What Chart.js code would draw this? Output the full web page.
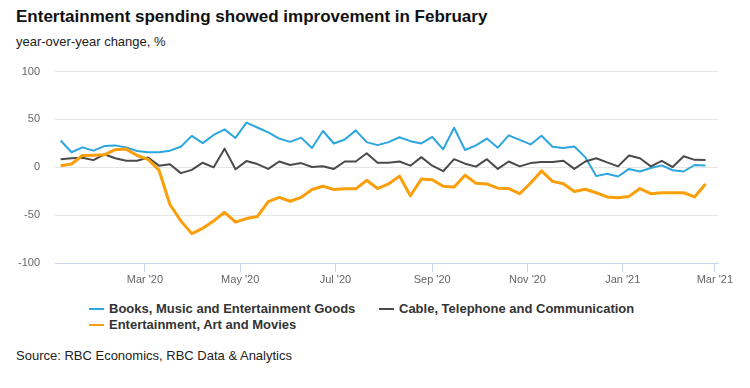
<!DOCTYPE html>
<html>
<head>
<meta charset="utf-8">
<title>Entertainment spending</title>
<script src="https://cdn.jsdelivr.net/npm/chart.js@4"></script>
<style>
    body { margin: 0; background: #fff; font-family: "Liberation Sans", Arial, sans-serif; }
    #wrap { position: relative; width: 750px; height: 388px; overflow: hidden; }
    .txt { position: absolute; white-space: nowrap; }
    #title { left: 16px; top: 7px; font-size: 17px; font-weight: bold; line-height: 20px; color: #111; }
    #subtitle { left: 16px; top: 34px; font-size: 13px; line-height: 16px; color: #222; }
    #chartBox { position: absolute; left: 0; top: 50px; width: 750px; height: 245px; }
    .leg { font-size: 13px; font-weight: bold; line-height: 16px; color: #333; }
    .mark { position: absolute; width: 15px; height: 2px; }
    #source { left: 16px; top: 348px; font-size: 13px; line-height: 16px; color: #222; }
</style>
</head>
<body>
<div id="wrap">
    <div id="title" class="txt">Entertainment spending showed improvement in February</div>
    <div id="subtitle" class="txt">year-over-year change, %</div>
    <div id="chartBox"><canvas id="chart"></canvas></div>
    <div id="legend"></div>
    <div id="source" class="txt">Source: RBC Economics, RBC Data &amp; Analytics</div>
</div>
<script>
// weekly observations
const weeks = [
    '2020-01-07', '2020-01-14', '2020-01-21', '2020-01-28', '2020-02-04', '2020-02-11', '2020-02-18', '2020-02-25',
    '2020-03-03', '2020-03-10', '2020-03-17', '2020-03-24', '2020-03-31', '2020-04-07', '2020-04-14', '2020-04-21',
    '2020-04-28', '2020-05-05', '2020-05-12', '2020-05-19', '2020-05-26', '2020-06-02', '2020-06-09', '2020-06-16',
    '2020-06-23', '2020-06-30', '2020-07-07', '2020-07-14', '2020-07-21', '2020-07-28', '2020-08-04', '2020-08-11',
    '2020-08-18', '2020-08-25', '2020-09-01', '2020-09-08', '2020-09-15', '2020-09-22', '2020-09-29', '2020-10-06',
    '2020-10-13', '2020-10-20', '2020-10-27', '2020-11-03', '2020-11-10', '2020-11-17', '2020-11-24', '2020-12-01',
    '2020-12-08', '2020-12-15', '2020-12-22', '2020-12-29', '2021-01-05', '2021-01-12', '2021-01-19', '2021-01-26',
    '2021-02-02', '2021-02-09', '2021-02-16', '2021-02-23'
];

const books = [
    28, 15.7, 20.8, 17.4, 22.2, 22.9, 20.8, 17, 15.7, 15.7,
    17.4, 21.5, 32.8, 25.3, 33.8, 39.6, 30.7, 46.7, 41.6, 36.5,
    30, 26.6, 31, 20.1, 37.9, 24.9, 29, 38.6, 26.3, 23.2,
    26.3, 31.4, 27.3, 24.9, 31.7, 18.8, 41.3, 18.1, 22.9, 30,
    20.5, 33.4, 28.7, 23.9, 33, 21.5, 20.1, 21.8, 10.6, -9.2,
    -6.8, -9.6, -1.7, -4.4, -0.7, 2, -3.1, -4.4, 2.4, 2
];

const cable = [
    8.5, 9.5, 10, 7.5, 13.6, 9.5, 6.8, 6.8, 10.3, 1.7,
    3.1, -6.1, -2.7, 4.8, 0, 19.5, -2, 6.5, 3.4, -1.7,
    6.1, 2.4, 4.4, 0.3, 1, -1.7, 6.1, 6.1, 14.7, 4.8,
    4.8, 6.1, 1.7, 10.6, 1.7, -4.1, 8.5, 3.8, 0.7, 8.5,
    -1.7, 6.1, 1, 4.4, 5.5, 5.5, 6.8, -1.7, 6.1, 9.5,
    5.1, 1, 12.3, 9.5, 1, 6.8, 0.3, 11.6, 7.8, 7.5
];

const movies = [
    1.7, 3.4, 12.3, 12.6, 13, 18.4, 19, 12.3, 8.3, -3,
    -38.9, -56, -69.3, -63.8, -56, -47, -57.3, -53.6, -51.5, -35.8,
    -31.4, -35.5, -31.4, -23.2, -19.8, -23.2, -22.5, -22.5, -13.6, -22.2,
    -17.4, -9.2, -29.7, -12.3, -13, -19.8, -20.5, -8.2, -16.7, -17.4,
    -21.8, -22.2, -27.6, -16.4, -3.8, -14.7, -17.1, -25.2, -22.9, -26.6,
    -31, -31.7, -30.4, -22.2, -27.6, -26.6, -26.6, -26.6, -31, -17.4
];

const tickDates = ['2020-03-01', '2020-05-01', '2020-07-01', '2020-09-01', '2020-11-01', '2021-01-01', '2021-03-01'];
const tickLabels = ["Mar '20", "May '20", "Jul '20", "Sep '20", "Nov '20", "Jan '21", "Mar '21"];

const seriesNames = ['Books, Music and Entertainment Goods', 'Cable, Telephone and Communication', 'Entertainment, Art and Movies'];
const seriesColors = ['#2ba6de', '#4a4a4a', '#fa9f0a'];

// days since 1 Jan 2020 for the linear x scale
const dayOf = s => (Date.parse(s) - Date.parse('2020-01-01')) / 86400000;
const weekDays = weeks.map(dayOf);
const tickDays = tickDates.map(dayOf);

const toPoints = vals => vals.map((v, i) => ({ x: weekDays[i], y: v }));

// legend (html, laid out like the original)
const legend = document.getElementById('legend');
const legendPos = [[89, 301], [379, 301], [89, 317]];
seriesNames.forEach((name, i) => {
    const [lx, ly] = legendPos[i];
    const m = document.createElement('div');
    m.className = 'mark';
    m.style.left = lx + 'px';
    m.style.top = (ly + 7) + 'px';
    m.style.background = seriesColors[i];
    legend.appendChild(m);
    const t = document.createElement('div');
    t.className = 'txt leg';
    t.style.left = (lx + 20) + 'px';
    t.style.top = ly + 'px';
    t.textContent = name;
    legend.appendChild(t);
});

new Chart(document.getElementById('chart'), {
    type: 'line',
    data: {
        datasets: [
            { label: seriesNames[2], data: toPoints(movies), borderColor: seriesColors[2], borderWidth: 3 },
            { label: seriesNames[1], data: toPoints(cable), borderColor: seriesColors[1], borderWidth: 2 },
            { label: seriesNames[0], data: toPoints(books), borderColor: seriesColors[0], borderWidth: 2 }
        ]
    },
    options: {
        responsive: true,
        maintainAspectRatio: false,
        animation: false,
        layout: { padding: { top: 18, right: 32, left: 0, bottom: 0 } },
        elements: { point: { radius: 0 }, line: { tension: 0, borderJoinStyle: 'round' } },
        plugins: { legend: { display: false }, tooltip: { enabled: false } },
        scales: {
            x: {
                type: 'linear',
                min: 2.4,
                max: 427,
                afterBuildTicks: axis => { axis.ticks = tickDays.map(v => ({ value: v })); },
                afterFit: axis => { axis.height = 32; },
                grid: { drawOnChartArea: false, drawTicks: true, tickLength: 9, color: '#ccd6eb' },
                border: { display: true, color: '#ccd6eb', width: 1 },
                ticks: {
                    autoSkip: false,
                    maxRotation: 0,
                    padding: 1,
                    color: '#666',
                    font: { family: '"Liberation Sans", Arial, sans-serif', size: 11 },
                    callback: v => tickLabels[tickDays.indexOf(v)]
                }
            },
            y: {
                min: -100,
                max: 100,
                afterFit: axis => { axis.width = 55; },
                grid: { color: '#e6e6e6', drawTicks: false },
                border: { display: false },
                ticks: {
                    stepSize: 50,
                    padding: 15,
                    color: '#666',
                    font: { family: '"Liberation Sans", Arial, sans-serif', size: 11 }
                }
            }
        }
    }
});
</script>
</body>
</html>
